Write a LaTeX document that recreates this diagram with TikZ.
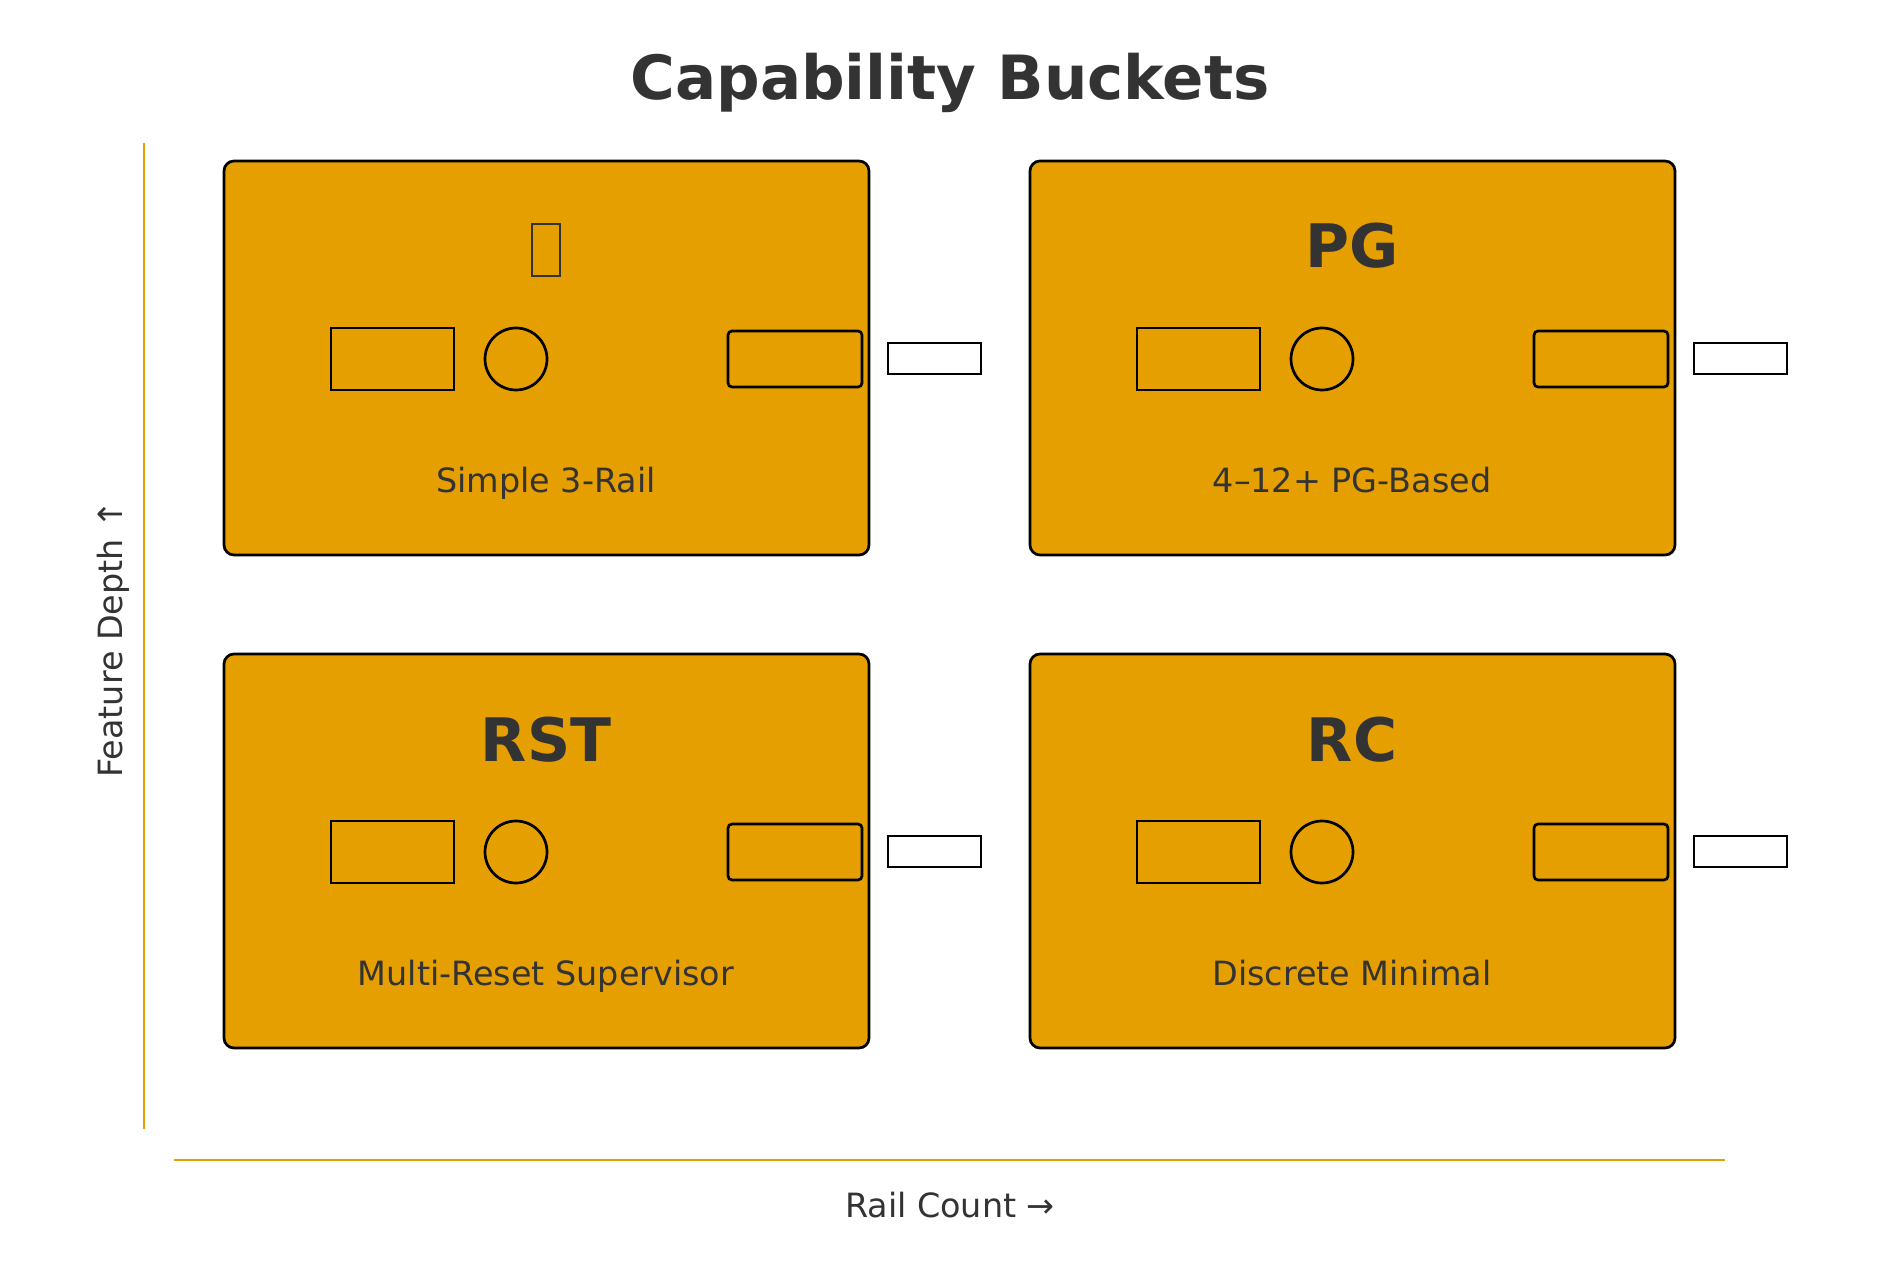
\documentclass[tikz,border=0pt]{standalone}
\usepackage{fontspec}
\setmainfont{DejaVu Sans}
\definecolor{cardfill}{HTML}{E69F00}
\definecolor{ink}{HTML}{333333}
\begin{document}
\begin{tikzpicture}[x=0.5pt,y=-0.5pt,
  card/.style={draw=black, line width=1.35pt, fill=cardfill, rounded corners=5pt,
    minimum width=322.5pt, minimum height=197pt, inner sep=0pt},
  head/.style={text=ink, font=\bfseries\fontsize{30}{36}\selectfont, inner sep=0pt, anchor=base},
  lbl/.style={text=ink, font=\fontsize{16.7}{20}\selectfont, inner sep=0pt},
  blockbox/.style={draw=black, line width=1.35pt, minimum width=61.5pt, minimum height=31pt, inner sep=0pt},
  dot/.style={draw=black, line width=1.35pt, circle, minimum size=31pt, inner sep=0pt},
  pill/.style={draw=black, line width=1.35pt, rounded corners=2pt, minimum width=67pt, minimum height=28pt, inner sep=0pt},
  outbox/.style={draw=black, line width=1.35pt, fill=white, minimum width=46.5pt, minimum height=15.5pt, inner sep=0pt},
  tofu/.style={draw=ink, line width=1.2pt, minimum width=14pt, minimum height=26pt, inner sep=0pt},
  axis/.style={draw=cardfill, line width=1.1pt}
]
\useasboundingbox (0,0) rectangle (1900,1272);
\fill[white] (0,0) rectangle (1900,1272);

\node[text=ink, font=\bfseries\fontsize{30.5}{36}\selectfont, anchor=base] (title) at (950,100) {Capability Buckets};

% axes
\coordinate (ytop) at (144,143);
\coordinate (ybot) at (144,1129);
\coordinate (xl) at (174,1160);
\coordinate (xr) at (1725,1160);
\draw[axis] (ytop) -- (ybot);
\draw[axis] (xl) -- (xr);
\node[lbl] (xlabel) at (950,1205) {Rail Count →};
\node[lbl, rotate=90] (ylabel) at (113.5,639) {Feature Depth ↑};

% cards
\foreach \dx/\dy/\nm in {0/0/a, 806/0/b, 0/493/c, 806/493/d}{
  \node[card] (card\nm) at ({546.5+\dx},{358+\dy}) {};
  \node[blockbox] (blk\nm) at ({392.5+\dx},{359+\dy}) {};
  \node[dot] (dot\nm) at ({516+\dx},{359+\dy}) {};
  \node[pill] (pill\nm) at ({795+\dx},{359+\dy}) {};
  \node[outbox] (out\nm) at ({934.5+\dx},{358.5+\dy}) {};
}
\node[tofu] (ha) at (546,250) {};
\node[head] (hb) at (1352,268) {PG};
\node[head] (hc) at (546,761) {RST};
\node[head] (hd) at (1352,761) {RC};

\node[lbl, anchor=base] (la) at (546,492.5) {Simple 3-Rail};
\node[lbl, anchor=base] (lb) at (1352,492.5) {4–12+ PG-Based};
\node[lbl, anchor=base] (lc) at (546,985.5) {Multi-Reset Supervisor};
\node[lbl, anchor=base] (ld) at (1352,985.5) {Discrete Minimal};
\end{tikzpicture}
\end{document}
